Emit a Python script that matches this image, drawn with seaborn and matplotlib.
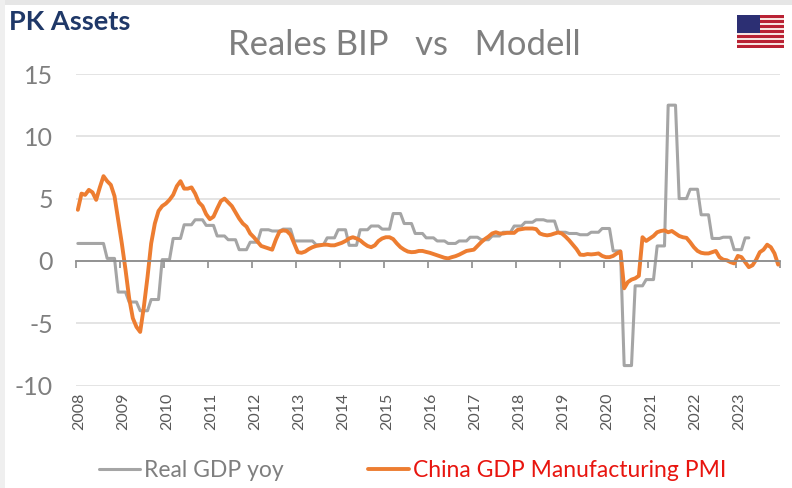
import numpy as np
import pandas as pd
import matplotlib
matplotlib.use("Agg")
import matplotlib.pyplot as plt
from matplotlib.patches import Rectangle
import seaborn as sns

year_labels = [str(y) for y in range(2008, 2024)]
gdp_label = "Real GDP yoy"
pmi_label = "China GDP Manufacturing PMI"
title_text = "Reales BIP   vs   Modell"
logo_text = "PK Assets"

real_gdp = [
    1.4, 1.4, 1.4, 1.4, 1.4, 1.4, 1.4, 1.4, .2, .2, .2, -2.5,
    -2.5, -2.5, -3.3, -3.3, -3.3, -4, -4, -4, -3.1, -3.1, -3.1, .1,
    .1, .1, 1.8, 1.8, 1.8, 2.9, 2.9, 2.9, 3.3, 3.3, 3.3, 2.85,
    2.85, 2.85, 2, 2, 2, 1.7, 1.7, 1.7, .9, .9, .9, 1.5,
    1.5, 1.5, 2.5, 2.5, 2.5, 2.4, 2.4, 2.4, 2.55, 2.55, 2.55, 1.6,
    1.6, 1.6, 1.6, 1.6, 1.6, 1.3, 1.3, 1.3, 1.85, 1.85, 1.85, 2.5,
    2.5, 2.5, 1.25, 1.25, 1.25, 2.5, 2.5, 2.5, 2.8, 2.8, 2.8, 2.55,
    2.55, 2.55, 3.8, 3.8, 3.8, 3, 3, 3, 2.2, 2.2, 2.2, 1.85,
    1.85, 1.85, 1.6, 1.6, 1.6, 1.4, 1.4, 1.4, 1.6, 1.6, 1.6, 1.9,
    1.9, 1.9, 1.7, 1.7, 1.7, 2, 2, 2, 2.3, 2.3, 2.3, 2.8,
    2.8, 2.8, 3.1, 3.1, 3.1, 3.3, 3.3, 3.3, 3.2, 3.2, 3.2, 2.3,
    2.3, 2.3, 2.2, 2.2, 2.2, 2.1, 2.1, 2.1, 2.3, 2.3, 2.3, 2.6,
    2.6, 2.6, .8, .8, .8, -8.4, -8.4, -8.4, -2, -2, -2, -1.5,
    -1.5, -1.5, 1.2, 1.2, 1.2, 12.5, 12.5, 12.5, 5, 5, 5, 5.75,
    5.75, 5.75, 3.7, 3.7, 3.7, 1.8, 1.8, 1.8, 1.9, 1.9, 1.9, .9,
    .9, .9, 1.85, 1.85, None, None, None, None, None, None, None, None,
]
pmi_model = [
    4.1, 5.4, 5.3, 5.7, 5.5, 4.9, 5.9, 6.8, 6.4, 6.1, 5.2, 3.3,
    1.4, -.7, -3.0, -4.6, -5.3, -5.7, -3.7, -1.3, 1.4, 3.0, 4.0, 4.4,
    4.6, 4.9, 5.3, 6.0, 6.4, 5.8, 5.8, 5.9, 5.4, 4.7, 4.4, 3.75,
    3.35, 3.55, 4.2, 4.8, 5.0, 4.7, 4.4, 3.9, 3.4, 3.0, 2.75, 2.2,
    1.9, 1.55, 1.2, 1.1, 1.0, .9, 1.7, 2.35, 2.45, 2.4, 2.1, 1.4,
    .7, .65, .75, .95, 1.1, 1.2, 1.25, 1.3, 1.3, 1.25, 1.25, 1.35,
    1.45, 1.6, 1.8, 1.9, 1.8, 1.65, 1.4, 1.2, 1.1, 1.25, 1.6, 1.8,
    1.9, 1.9, 1.75, 1.4, 1.1, .9, .75, .7, .72, .8, .8, .72,
    .65, .55, .45, .35, .25, .2, .3, .38, .5, .65, .8, .85,
    .9, 1.2, 1.5, 1.75, 1.95, 2.2, 2.3, 2.2, 2.2, 2.25, 2.25, 2.25,
    2.5, 2.55, 2.6, 2.6, 2.6, 2.55, 2.2, 2.1, 2.05, 2.1, 2.2, 2.28,
    2.2, 1.95, 1.65, 1.3, .95, .5, .48, .55, .52, .55, .6, .4,
    .3, .3, .4, .6, .75, -2.2, -1.7, -1.5, -1.4, -1.2, 1.9, 1.6,
    1.8, 2.0, 2.3, 2.4, 2.45, 2.3, 2.4, 2.2, 2.0, 1.9, 1.85, 1.5,
    1.1, .8, .65, .6, .6, .7, .8, .3, .1, .05, -.1, -.2,
    .4, .3, -.1, -.5, -.35, .1, .7, .9, 1.3, 1.1, .6, -.3,
]

months = np.arange(len(pmi_model))
df = pd.DataFrame({
    "pos": 2008 + (months + 0.5) / 12,
    "gdp": pd.to_numeric(pd.Series(real_gdp), errors="coerce"),
    "pmi": pmi_model,
})

W, H = 792, 488
sns.set_theme(style="white")
plt.rcParams["font.family"] = ["Lato", "DejaVu Sans"]
plt.rcParams["axes.unicode_minus"] = False
fig = plt.figure(figsize=(W / 100, H / 100), dpi=100, facecolor="white")


def fx(px):
    return px / W


def fy(py):
    return 1 - py / H


# axes: x 76..780 px, y 15 at 74 px, -10 at 385.5 px
ax = fig.add_axes([fx(76), fy(385.5), fx(780) - fx(76), fy(74) - fy(385.5)])
ax.set_xlim(2008, 2024)
ax.set_ylim(-10, 15)
ax.set_facecolor("white")
ax.set_yticks([-10, -5, 0, 5, 10, 15])
ax.yaxis.grid(True, color="#e2e2e2", lw=1.3)
ax.xaxis.grid(False)
ax.set_axisbelow(True)
for s in ["top", "left", "right"]:
    ax.spines[s].set_visible(False)
ax.spines["bottom"].set_position(("data", 0))
ax.spines["bottom"].set_color("#8c8c8c")
ax.spines["bottom"].set_linewidth(1.3)

sns.lineplot(data=df, x="pos", y="gdp", ax=ax, color="#a5a5a5", lw=2.2,
             label=gdp_label, errorbar=None, estimator=None)
sns.lineplot(data=df, x="pos", y="pmi", ax=ax, color="#ed7d31", lw=2.8,
             label=pmi_label, errorbar=None, estimator=None)
ax.set_xlabel("")
ax.set_ylabel("")

ax.set_xticks(np.arange(2008, 2025))
ax.set_xticklabels(year_labels + [""])
ax.tick_params(axis="x", direction="out", length=5, width=1.2, color="#8c8c8c",
               bottom=True, labelbottom=False)
ax.tick_params(axis="y", length=0, labelsize=18, labelcolor="#7f7f7f", pad=16.5)
for y, lab in zip(np.arange(2008, 2024), year_labels):
    ax.annotate(lab, xy=(y, 0), xycoords=ax.get_xaxis_transform(),
                xytext=(2, -5), textcoords="offset points", rotation=90,
                ha="center", va="top", fontsize=11.5, color="#595959")

leg = ax.legend(loc="upper left", bbox_to_anchor=(fx(99), fy(460)),
                bbox_transform=fig.transFigure, ncol=2, frameon=False,
                fontsize=16.5, handlelength=1.8, handletextpad=0.15,
                columnspacing=3.7, borderpad=0, borderaxespad=0,
                labelcolor=["#7f7f7f", "#e8150f"])

fig.text(fx(404), fy(45), title_text, ha="center", va="center",
         fontsize=25, color="#7f7f7f")
fig.text(fx(9), fy(22), logo_text, ha="left", va="center", fontsize=19.5,
         fontweight="bold", color="#1f3868")

# window edges of the screenshot
fig.add_artist(Rectangle((0, fy(5)), 1, fy(0) - fy(5), transform=fig.transFigure,
                         color="#e6e6e6", lw=0))
fig.add_artist(Rectangle((0, 0), fx(5), 1, transform=fig.transFigure,
                         color="#efefef", lw=0))

# flag
fx0, fx1, fy0, fy1 = 737, 784, 15, 48
stripes = 13
for k in range(stripes):
    h = (fy1 - fy0) / stripes
    col = "#b92234" if k % 2 == 0 else "#f7e4e0"
    fig.add_artist(Rectangle((fx(fx0), fy(fy0 + (k + 1) * h)), fx(fx1) - fx(fx0), h / H,
                             transform=fig.transFigure, color=col, lw=0))
fig.add_artist(Rectangle((fx(fx0), fy(fy0 + 18)), fx(760) - fx(fx0), 18 / H,
                         transform=fig.transFigure, color="#2c2f73", lw=0))

fig.savefig("out.png", dpi=100, facecolor="white")
